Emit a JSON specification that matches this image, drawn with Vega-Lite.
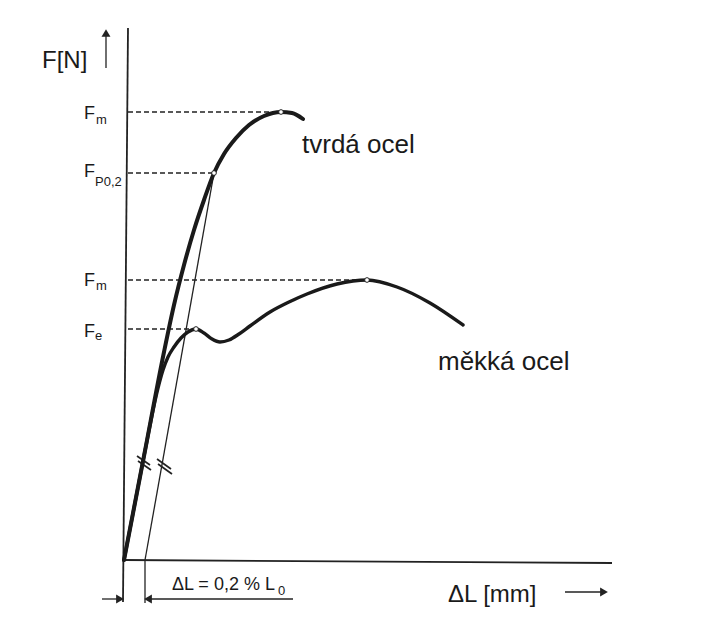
{
  "$schema": "https://vega.github.io/schema/vega-lite/v6.json",
  "width": 500,
  "height": 500,
  "autosize": {"type": "none"},
  "padding": {"left": 124, "top": 60, "right": 77, "bottom": 83},
  "background": "white",
  "config": {"view": {"stroke": null}, "text": {"font": "Liberation Sans"}},
  "datasets": {
    "hard": [
      {"x": 0, "y": 0}, {"x": 20, "y": 104}, {"x": 40, "y": 208}, {"x": 50, "y": 255},
      {"x": 60, "y": 295}, {"x": 70, "y": 330}, {"x": 80, "y": 360}, {"x": 90, "y": 387},
      {"x": 100, "y": 406}, {"x": 112, "y": 422}, {"x": 125, "y": 435}, {"x": 140, "y": 444},
      {"x": 157, "y": 448}, {"x": 168, "y": 447}, {"x": 179, "y": 441}
    ],
    "soft": [
      {"x": 0, "y": 0}, {"x": 20, "y": 104}, {"x": 34, "y": 172}, {"x": 39, "y": 190},
      {"x": 44, "y": 203}, {"x": 50, "y": 213}, {"x": 57, "y": 222}, {"x": 64, "y": 228},
      {"x": 72, "y": 231}, {"x": 80, "y": 227}, {"x": 88, "y": 221}, {"x": 96, "y": 218},
      {"x": 105, "y": 220}, {"x": 115, "y": 226}, {"x": 126, "y": 234}, {"x": 146, "y": 248},
      {"x": 165, "y": 258}, {"x": 183, "y": 266}, {"x": 213, "y": 276},
      {"x": 243, "y": 280}, {"x": 273, "y": 273}, {"x": 306, "y": 257}, {"x": 339, "y": 235}
    ],
    "dashes": [
      {"x": 4, "y": 448, "x2": 157, "y2": 448},
      {"x": 4, "y": 387, "x2": 90, "y2": 387},
      {"x": 4, "y": 280, "x2": 243, "y2": 280},
      {"x": 4, "y": 231, "x2": 72, "y2": 231}
    ],
    "axes": [
      {"x": -1, "y": -42, "x2": 4, "y2": 532},
      {"x": 0, "y": 0, "x2": 488, "y2": -3}
    ],
    "thin": [
      {"x": 21, "y": 0, "x2": 90, "y2": 387},
      {"x": 21, "y": 0, "x2": 21, "y2": -43},
      {"x": -22, "y": -39, "x2": -3, "y2": -39},
      {"x": 23, "y": -39, "x2": 169, "y2": -39},
      {"x": -18, "y": 492, "x2": -18, "y2": 525},
      {"x": 441, "y": -32, "x2": 478, "y2": -32}
    ],
    "slashes": [
      {"x": 13, "y": 104, "x2": 26, "y2": 95},
      {"x": 14, "y": 99, "x2": 27, "y2": 90},
      {"x": 33, "y": 101, "x2": 47, "y2": 91},
      {"x": 34, "y": 96, "x2": 48, "y2": 86}
    ],
    "heads": [
      {"x": -4, "y": -39, "dir": "triangle-right"},
      {"x": 24, "y": -39, "dir": "triangle-left"},
      {"x": -18, "y": 527, "dir": "triangle-up"},
      {"x": 480, "y": -32, "dir": "triangle-right"}
    ],
    "dots": [
      {"x": 157, "y": 448}, {"x": 90, "y": 387}, {"x": 243, "y": 280}, {"x": 72, "y": 231}
    ],
    "big": [
      {"x": 178, "y": 415, "t": "tvrdá ocel"},
      {"x": 314, "y": 198, "t": "měkká ocel"}
    ],
    "titles": [
      {"x": -82, "y": 499, "t": "F[N]"},
      {"x": 324, "y": -35, "t": "ΔL [mm]"}
    ],
    "fs": [
      {"x": -40, "y": 446, "t": "F"},
      {"x": -40, "y": 388, "t": "F"},
      {"x": -40, "y": 279, "t": "F"},
      {"x": -40, "y": 228, "t": "F"}
    ],
    "dim": [
      {"x": 48, "y": -25, "t": "ΔL = 0,2 % L"}
    ],
    "subs": [
      {"x": -28, "y": 440, "t": "m"},
      {"x": -29, "y": 378, "t": "P0,2"},
      {"x": -28, "y": 274, "t": "m"},
      {"x": -29, "y": 224, "t": "e"},
      {"x": 154, "y": -31, "t": "0"}
    ]
  },
  "encoding": {
    "x": {"field": "x", "type": "quantitative", "scale": {"domain": [0, 500], "nice": false, "zero": false}, "axis": null},
    "y": {"field": "y", "type": "quantitative", "scale": {"domain": [0, 500], "nice": false, "zero": false}, "axis": null}
  },
  "layer": [
    {
      "data": {"name": "dashes"},
      "mark": {"type": "rule", "stroke": "#222", "strokeWidth": 1.4, "strokeDash": [5, 3]},
      "encoding": {"x2": {"field": "x2"}, "y2": {"field": "y2"}}
    },
    {
      "data": {"name": "axes"},
      "mark": {"type": "rule", "stroke": "#222", "strokeWidth": 1.8},
      "encoding": {"x2": {"field": "x2"}, "y2": {"field": "y2"}}
    },
    {
      "data": {"name": "thin"},
      "mark": {"type": "rule", "stroke": "#222", "strokeWidth": 1.3},
      "encoding": {"x2": {"field": "x2"}, "y2": {"field": "y2"}}
    },
    {
      "data": {"name": "slashes"},
      "mark": {"type": "rule", "stroke": "#222", "strokeWidth": 1.7},
      "encoding": {"x2": {"field": "x2"}, "y2": {"field": "y2"}}
    },
    {
      "data": {"name": "heads"},
      "mark": {"type": "point", "filled": true, "color": "#222", "size": 80, "opacity": 1},
      "encoding": {"shape": {"field": "dir", "type": "nominal", "scale": null, "legend": null}}
    },
    {
      "data": {"name": "hard"},
      "mark": {"type": "line", "stroke": "#1a1a1a", "strokeWidth": 4, "interpolate": "monotone", "strokeCap": "round"},
      "encoding": {}
    },
    {
      "data": {"name": "soft"},
      "mark": {"type": "line", "stroke": "#1a1a1a", "strokeWidth": 3.4, "interpolate": "monotone", "strokeCap": "round"},
      "encoding": {}
    },
    {
      "data": {"name": "dots"},
      "mark": {"type": "point", "shape": "circle", "filled": true, "fill": "white", "stroke": "#222", "strokeWidth": 1, "size": 22, "opacity": 1},
      "encoding": {}
    },
    {
      "data": {"name": "big"},
      "mark": {"type": "text", "align": "left", "baseline": "middle", "fontSize": 26, "color": "#1a1a1a"},
      "encoding": {"text": {"field": "t"}}
    },
    {
      "data": {"name": "titles"},
      "mark": {"type": "text", "align": "left", "baseline": "middle", "fontSize": 24, "color": "#1a1a1a"},
      "encoding": {"text": {"field": "t"}}
    },
    {
      "data": {"name": "fs"},
      "mark": {"type": "text", "align": "left", "baseline": "middle", "fontSize": 18, "color": "#1a1a1a"},
      "encoding": {"text": {"field": "t"}}
    },
    {
      "data": {"name": "dim"},
      "mark": {"type": "text", "align": "left", "baseline": "middle", "fontSize": 18, "color": "#1a1a1a"},
      "encoding": {"text": {"field": "t"}}
    },
    {
      "data": {"name": "subs"},
      "mark": {"type": "text", "align": "left", "baseline": "middle", "fontSize": 13, "color": "#1a1a1a"},
      "encoding": {"text": {"field": "t"}}
    }
  ]
}
